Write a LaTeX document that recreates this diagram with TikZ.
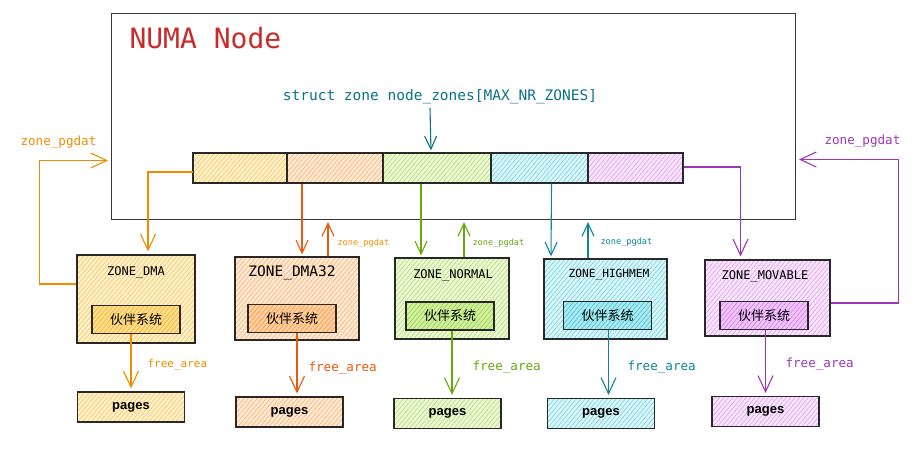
\documentclass[tikz,border=0pt]{standalone}
\usepackage{fontspec}
\setmainfont{Liberation Sans}
\setmonofont{DejaVu Sans Mono}
\newfontfamily\cjk{Noto Sans CJK SC}
\usetikzlibrary{arrows.meta,patterns.meta}
\definecolor{frame}{RGB}{52,58,64}
\definecolor{boxline}{RGB}{40,40,40}
\definecolor{numared}{RGB}{201,42,42}
\definecolor{arrteal}{RGB}{11,114,133}
% hatch colours
\definecolor{zy}{RGB}{250,176,5}
\definecolor{zo}{RGB}{255,146,43}
\definecolor{zg}{RGB}{148,216,45}
\definecolor{zc}{RGB}{59,201,219}
\definecolor{zp}{RGB}{218,119,242}
% line colours
\definecolor{ay}{RGB}{240,140,0}
\definecolor{ao}{RGB}{232,89,12}
\definecolor{ag}{RGB}{102,168,15}
\definecolor{ac}{RGB}{12,133,153}
\definecolor{ap}{RGB}{156,54,181}
\tikzset{
  hatchfill/.style={preaction={fill=#1!18}, pattern={Lines[angle=50,distance=3.4pt,line width=0.6pt]}, pattern color=#1!75},
  hatchdeep/.style={preaction={fill=#1!42}, pattern={Lines[angle=50,distance=3.4pt,line width=0.6pt]}, pattern color=#1},
  cellbox/.style={draw=boxline, line width=1.2pt, inner sep=0pt, hatchfill=#1, minimum height=30pt},
  zonebox/.style={draw=boxline, line width=1.2pt, inner sep=0pt, hatchfill=#1},
  buddy/.style={draw=boxline, line width=1.1pt, inner sep=0pt, hatchdeep=#1,
                minimum width=88pt, minimum height=28pt, font=\cjk\fontsize{13}{15}\selectfont},
  pagebox/.style={draw=boxline, line width=1.2pt, inner sep=0pt, hatchfill=#1,
                minimum width=107pt, minimum height=30pt, font=\bfseries\fontsize{13}{15}\selectfont},
  ztitle/.style={font=\ttfamily\fontsize{12}{14}\selectfont},
  flow/.style={-{Straight Barb[length=13pt,width=12pt]}, line width=1.1pt, draw=#1, shorten >=2pt},
  bigflow/.style={-{Straight Barb[length=16pt,width=15pt]}, line width=1.1pt, draw=#1, shorten >=3pt},
  tag/.style={font=\ttfamily\fontsize{12.6}{14}\selectfont, text=#1, anchor=west},
  smalltag/.style={font=\ttfamily\fontsize{8.6}{10}\selectfont, text=#1, anchor=west},
}
\begin{document}
\begin{tikzpicture}[x=1pt,y=-1pt]
  \useasboundingbox (0,0) rectangle (920,467);
  % NUMA node frame
  \node[draw=frame, line width=1pt, inner sep=0pt, minimum width=684pt, minimum height=206pt,
        anchor=north west] (numa) at (111,13) {};
  \node[font=\ttfamily\fontsize{28}{30}\selectfont, text=numared, anchor=west] (numaTitle) at (126,38) {NUMA Node};
  \node[font=\ttfamily\fontsize{14.5}{16}\selectfont, text=arrteal] (zoneArr) at (440,97)
       {struct zone node\_zones[MAX\_NR\_ZONES]};

  % node_zones[] cells
  \node[cellbox=zy, minimum width=94pt] (c1) at (240,168) {};
  \node[cellbox=zo, minimum width=96pt] (c2) at (335,168) {};
  \node[cellbox=zg, minimum width=108pt] (c3) at (437,168) {};
  \node[cellbox=zc, minimum width=97pt] (c4) at (539.5,168) {};
  \node[cellbox=zp, minimum width=95pt] (c5) at (635.5,168) {};
  \draw[flow=arrteal] ([xshift=-10pt]zoneArr.south) -- ([xshift=-6pt]c3.north);

  % zones
  \node[zonebox=zy, minimum width=118pt, minimum height=88pt] (dma) at (136,299) {};
  \node[zonebox=zo, minimum width=124pt, minimum height=83pt] (dma32) at (297,298.5) {};
  \node[zonebox=zg, minimum width=114pt, minimum height=81pt] (normal) at (452,298.5) {};
  \node[zonebox=zc, minimum width=123pt, minimum height=80pt] (highmem) at (605.5,299) {};
  \node[zonebox=zp, minimum width=125pt, minimum height=76pt] (movable) at (767.5,298) {};

  \node[ztitle] (dmaName) at (136,272) {ZONE\_DMA};
  \node[ztitle, font=\ttfamily\fontsize{14.5}{16}\selectfont] (dma32Name) at (292,273) {ZONE\_DMA32};
  \node[ztitle] (normalName) at (453,275) {ZONE\_NORMAL};
  \node[ztitle, font=\ttfamily\fontsize{11.2}{13}\selectfont] (highmemName) at (609,275) {ZONE\_HIGHMEM};
  \node[ztitle] (movableName) at (765,276) {ZONE\_MOVABLE};

  \node[buddy=zy] (dmaBuddy) at (136,319.5) {伙伴系统};
  \node[buddy=zo] (dma32Buddy) at (292,318.5) {伙伴系统};
  \node[buddy=zg] (normalBuddy) at (450,316) {伙伴系统};
  \node[buddy=zc] (highmemBuddy) at (607.5,315.5) {伙伴系统};
  \node[buddy=zp] (movableBuddy) at (764,315.5) {伙伴系统};

  \node[pagebox=zy] (dmaPages) at (131,407) {pages};
  \node[pagebox=zo] (dma32Pages) at (289.5,412) {pages};
  \node[pagebox=zg] (normalPages) at (447.5,413.5) {pages};
  \node[pagebox=zc] (highmemPages) at (601,413.5) {pages};
  \node[pagebox=zp] (movablePages) at (765.5,411.5) {pages};

  % cell -> zone
  \draw[bigflow=ay] ([yshift=-4pt]c1.west) -| ([xshift=12pt]dma.north);
  \draw[flow=ao] ([xshift=-33pt]c2.south) -- ([xshift=5pt]dma32.north);
  \draw[flow=ag] ([xshift=-16pt]c3.south) -- ([xshift=-31pt]normal.north);
  \draw[flow=ac] ([xshift=12pt]c4.south) -- ([xshift=-54.5pt]highmem.north);
  \draw[bigflow=ap] ([yshift=1pt]c5.east) -| ([xshift=-27pt]movable.north);

  % zone -> node (zone_pgdat)
  \draw[bigflow=ay] ([yshift=15pt]dma.west) -- ++(-37,0) |- ([yshift=-44pt]numa.west);
  \node[tag=ay] (dmaPgdat) at (17,142) {zone\_pgdat};
  \draw[flow=ao] ([xshift=31pt]dma32.north) -- ([xshift=31pt]dma32.north |- numa.south);
  \node[smalltag=ay] (dma32Pgdat) at (334,243) {zone\_pgdat};
  \draw[flow=ag] ([xshift=12pt]normal.north) -- ([xshift=12pt]normal.north |- numa.south);
  \node[smalltag=ag] (normalPgdat) at (469,243) {zone\_pgdat};
  \draw[flow=ac] ([xshift=-17.5pt]highmem.north) -- ([xshift=-17.5pt]highmem.north |- numa.south);
  \node[smalltag=ac] (highmemPgdat) at (597,242) {zone\_pgdat};
  \draw[bigflow=ap] ([yshift=-5pt]movable.east) -- ++(68,0) |- ([yshift=-43pt]numa.east);
  \node[tag=ap] (movablePgdat) at (821,141) {zone\_pgdat};

  % free_area
  \draw[bigflow=ay] ([xshift=-5pt]dmaBuddy.south) -- (dmaPages.north);
  \node[tag=ay, font=\ttfamily\fontsize{11}{13}\selectfont] (dmaFree) at (144,365) {free\_area};
  \draw[bigflow=ao] ([xshift=5pt]dma32Buddy.south) -- ([xshift=7.5pt]dma32Pages.north);
  \node[tag=ao] (dma32Free) at (305,368) {free\_area};
  \draw[bigflow=ag] ([xshift=2pt]normalBuddy.south) -- ([xshift=4.5pt]normalPages.north);
  \node[tag=ag] (normalFree) at (469,367) {free\_area};
  \draw[bigflow=ac] ([xshift=1pt]highmemBuddy.south) -- ([xshift=7.5pt]highmemPages.north);
  \node[tag=ac] (highmemFree) at (624,367) {free\_area};
  \draw[bigflow=ap] ([xshift=1.5pt]movableBuddy.south) -- (movablePages.north);
  \node[tag=ap] (movableFree) at (782,364) {free\_area};
\end{tikzpicture}
\end{document}
